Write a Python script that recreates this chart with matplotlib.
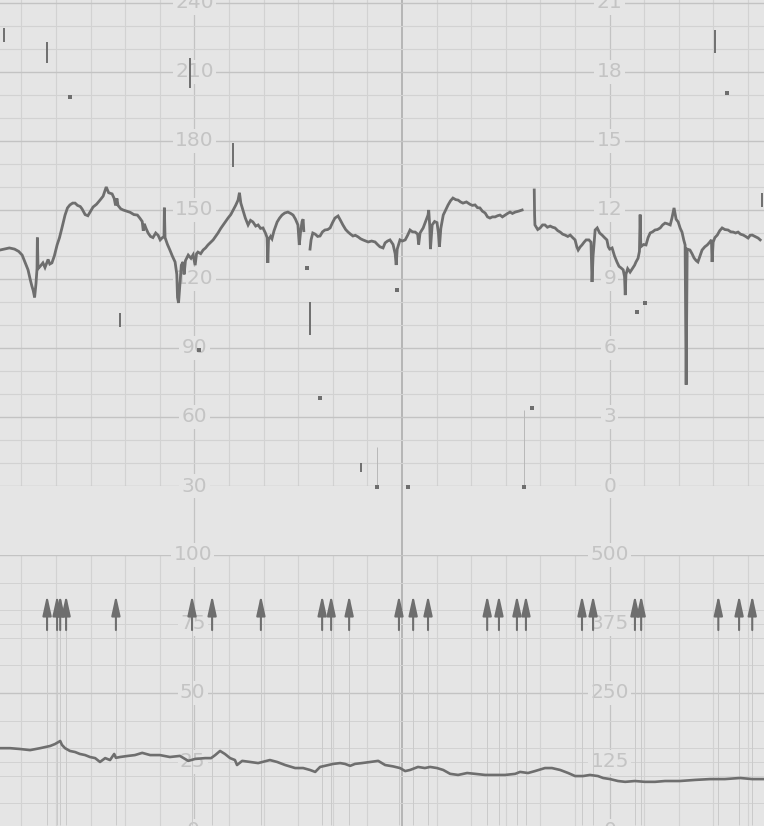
#!/usr/bin/env python3
"""Cardiotocograph strip: fetal heart rate (top) and uterine activity (bottom)."""

import numpy as np
import matplotlib
matplotlib.use("Agg")
import matplotlib.pyplot as plt

# time axis in minutes (1 cm / min paper)
T_MIN, T_MAX = -0.62, 21.46

# fetal heart rate trace (bpm); NaN marks signal loss
fhr_t = [
    -0.62, -0.50, -0.35, -0.20, -0.08, 0.02, 0.10, 0.19, 0.25, 0.30, 0.34, 0.38, 0.42,
    0.45, 0.46, 0.48, 0.54, 0.62, 0.68, 0.77, 0.82, 0.88, 0.95, 1.03, 1.10, 1.17, 1.26,
    1.33, 1.40, 1.48, 1.55, 1.62, 1.70, 1.75, 1.84, 1.92, 2.00, 2.07, 2.17, 2.27, 2.36,
    2.45, 2.52, 2.62, 2.68, 2.72, 2.76, 2.79, 2.87, 2.94, 3.04, 3.14, 3.25, 3.35, 3.42,
    3.49, 3.52, 3.55, 3.60, 3.66, 3.73, 3.80, 3.88, 3.95, 4.01, 4.06, 4.12, 4.13, 4.15,
    4.22, 4.29, 4.36, 4.44, 4.49, 4.51, 4.54, 4.58, 4.62, 4.67, 4.70, 4.74, 4.82, 4.90,
    4.96, 5.02, 5.06, 5.10, 5.18, 5.25, 5.32, 5.39, 5.47, 5.54, 5.61, 5.68, 5.76, 5.83,
    5.90, 5.97, 6.05, 6.12, 6.19, 6.26, 6.30, 6.34, 6.40, 6.47, 6.55, 6.62, 6.69, 6.77,
    6.84, 6.91, 6.98, 7.05, 7.10, 7.12, 7.14, 7.20, 7.24, 7.30, 7.39, 7.46, 7.53, 7.61,
    7.70, 7.78, 7.85, 7.92, 7.99, 8.03, 8.07, 8.11, 8.14, 8.16, 8.20,
    8.34, 8.37, 8.42, 8.49, 8.56, 8.63, 8.70, 8.77, 8.85, 8.92, 8.99, 9.06, 9.15, 9.22,
    9.29, 9.37, 9.44, 9.51, 9.58, 9.65, 9.73, 9.80, 9.87, 9.95, 10.02, 10.12, 10.22,
    10.29, 10.36, 10.45, 10.51, 10.58, 10.65, 10.74, 10.80, 10.83, 10.86, 10.94, 11.01,
    11.09, 11.16, 11.23, 11.30, 11.38, 11.45, 11.48, 11.52, 11.61, 11.68, 11.75, 11.77,
    11.80, 11.82, 11.87, 11.94, 12.01, 12.05, 12.08, 12.12, 12.19, 12.26, 12.33, 12.40,
    12.47, 12.55, 12.62, 12.69, 12.76, 12.86, 12.96, 13.03, 13.11, 13.18, 13.25, 13.32,
    13.40, 13.47, 13.54, 13.61, 13.69, 13.76, 13.83, 13.90, 13.98, 14.05, 14.12, 14.19,
    14.27, 14.37, 14.47, 14.55,
    14.82, 14.83, 14.84, 14.92, 14.99, 15.06, 15.13, 15.20, 15.28, 15.35, 15.42, 15.50,
    15.57, 15.64, 15.71, 15.79, 15.86, 15.93, 16.00, 16.05, 16.09, 16.15, 16.20, 16.26,
    16.32, 16.40, 16.46, 16.49, 16.52, 16.58, 16.64, 16.71, 16.78, 16.85, 16.92, 16.96,
    17.00, 17.07, 17.14, 17.21, 17.27, 17.33, 17.39, 17.43, 17.45, 17.47, 17.52, 17.59,
    17.67, 17.72, 17.76, 17.82, 17.86, 17.88, 17.90, 17.98, 18.05, 18.11, 18.17, 18.24,
    18.31, 18.38, 18.46, 18.53, 18.60, 18.67, 18.75, 18.80, 18.86, 18.92, 18.98, 19.04,
    19.09, 19.14, 19.18, 19.21, 19.24, 19.32, 19.38, 19.44, 19.50, 19.55, 19.61, 19.67,
    19.75, 19.82, 19.89, 19.94, 19.96, 19.99, 20.04, 20.11, 20.18, 20.25, 20.33, 20.42,
    20.50, 20.57, 20.64, 20.71, 20.78, 20.86, 20.93, 21.00, 21.06, 21.12, 21.20, 21.29,
    21.35,
]
fhr_bpm = [
    132.6, 133.0, 133.5, 133.0, 132.0, 130.4, 127.4, 124.0, 120.0, 117.0, 115.0, 112.0, 118.0,
    124.5, 138.0, 124.5, 125.5, 127.0, 125.0, 128.5, 126.5, 127.0, 130.0, 134.8, 138.0, 142.2, 147.8,
    150.9, 152.2, 153.0, 153.0, 152.0, 151.5, 150.5, 148.0, 147.5, 149.5, 151.3, 152.5, 154.3, 156.0,
    160.0, 157.5, 157.0, 155.0, 152.0, 155.0, 152.0, 150.5, 150.0, 149.5, 149.0, 148.0, 147.8, 146.5,
    145.0, 141.0, 144.0, 142.0, 140.0, 138.5, 138.0, 140.0, 139.0, 137.0, 137.8, 138.5, 151.0, 138.0,
    135.0, 132.6, 130.0, 127.4, 122.0, 112.0, 109.6, 118.0, 126.0, 127.4, 122.0, 128.0, 130.4, 129.0,
    130.5, 126.0, 131.0, 131.7, 131.0, 132.6, 133.5, 134.8, 136.0, 137.0, 138.5, 140.0, 142.0, 143.5,
    145.0, 146.5, 148.0, 150.0, 152.0, 154.3, 157.5, 153.0, 150.0, 146.5, 143.5, 145.5, 144.8, 143.0,
    143.5, 142.0, 142.2, 140.0, 138.0, 127.0, 137.0, 138.5, 137.5, 141.0, 144.8, 146.5, 147.8, 148.7,
    149.1, 148.5, 147.8, 146.0, 143.5, 134.8, 141.0, 145.0, 146.0, 141.0, np.nan,
    133.0, 137.0, 140.0, 139.5, 138.5, 138.7, 140.5, 141.3, 141.5, 142.2, 144.5, 146.5, 147.4, 145.5,
    143.5, 141.5, 140.4, 139.5, 138.7, 139.0, 138.3, 137.5, 137.0, 136.5, 136.1, 136.5, 136.1,
    135.0, 134.0, 133.5, 135.7, 136.5, 137.0, 135.0, 131.0, 126.1, 133.0, 137.0, 136.5,
    137.0, 139.0, 141.3, 140.5, 140.4, 139.5, 135.0, 140.0, 142.2, 145.0, 147.8, 150.0,
    143.0, 133.0, 143.5, 145.0, 144.5, 140.0, 134.0, 142.0, 147.8, 150.0, 152.2, 154.0,
    155.2, 154.5, 154.3, 153.5, 153.0, 153.5, 152.5, 152.0, 152.2, 151.0, 150.9, 149.5,
    148.7, 147.0, 146.5, 147.0, 147.0, 147.5, 147.8, 147.0, 147.8, 148.5, 149.1, 148.5,
    149.1, 149.5, 150.0, np.nan,
    158.7, 147.8, 143.5, 141.5, 142.2, 143.5, 143.5, 142.5, 143.0, 142.5, 142.2, 141.0,
    140.4, 139.5, 139.1, 138.5, 139.1, 138.0, 137.0, 134.0, 132.6, 134.0, 134.8, 136.0,
    137.0, 137.0, 136.0, 118.7, 130.0, 141.3, 142.2, 140.0, 139.1, 138.0, 137.0, 134.0,
    133.0, 133.5, 130.0, 127.4, 125.5, 124.8, 124.0, 121.0, 113.0, 122.0, 124.5, 123.0,
    124.8, 126.0, 127.4, 129.0, 132.0, 148.0, 134.0, 135.0, 134.8, 138.0, 140.0, 140.5,
    141.3, 141.5, 142.2, 143.5, 144.3, 144.0, 143.5, 146.5, 150.9, 146.0, 144.8, 142.0,
    140.4, 137.0, 134.8, 74.0, 133.0, 132.6, 131.0, 129.1, 128.0, 127.4, 130.0, 132.6,
    134.0, 134.8, 136.0, 137.0, 127.4, 136.0, 138.0, 139.1, 141.0, 142.2, 141.5, 141.3,
    140.5, 140.4, 140.0, 140.4, 139.5, 139.1, 138.5, 137.8, 139.0, 139.1, 138.5, 137.8,
    137.0,
]

# stray pen strokes in the heart-rate channel: time, top bpm, bottom bpm
stroke_t = [-0.50, 0.74, 4.87, 6.12, 2.85, 8.34, 9.82, 20.05, 21.41]
stroke_top = [229.1, 223.0, 216.1, 179.1, 105.2, 110.0, 40.0, 228.3, 157.4]
stroke_bot = [223.0, 213.9, 203.0, 168.7, 99.1, 95.7, 36.1, 218.3, 151.3]

# faint drop-out lines to the bottom of the scale
dropout_t = [10.28, 14.53]
dropout_top = [47.0, 63.0]

# isolated dots
dot_t = [8.63, 10.28, 5.13, 10.86, 11.17, 14.53, 14.76, 18.02, 17.79, 20.39, 1.40, 8.25]
dot_bpm = [68.3, 29.7, 89.1, 115.2, 29.7, 29.7, 63.9, 109.6, 105.7, 200.9, 199.1, 124.8]

# uterine activity trace
uc_t = [
    -0.62, -0.33, -0.04, 0.25, 0.54, 0.83, 0.97, 1.12, 1.17, 1.26, 1.40, 1.55, 1.69, 1.84,
    1.98, 2.13, 2.27, 2.42, 2.56, 2.68, 2.73, 2.85, 3.08, 3.28, 3.49, 3.72, 4.00, 4.29,
    4.58, 4.82, 5.02, 5.31, 5.48, 5.60, 5.74, 5.88, 6.03, 6.17, 6.23, 6.38, 6.61, 6.84,
    7.18, 7.39, 7.62, 7.91, 8.14, 8.34, 8.49, 8.63, 8.77, 9.01, 9.21, 9.35, 9.50, 9.64,
    9.84, 10.08, 10.31, 10.51, 10.74, 10.94, 11.09, 11.23, 11.46, 11.66, 11.81, 12.01,
    12.19, 12.39, 12.62, 12.88, 13.11, 13.40, 13.69, 13.98, 14.27, 14.41, 14.64, 14.84,
    15.13, 15.33, 15.57, 15.80, 16.00, 16.23, 16.43, 16.66, 16.81, 17.01, 17.24, 17.45,
    17.73, 18.02, 18.31, 18.60, 19.03, 19.47, 19.90, 20.33, 20.77, 21.12, 21.46,
]
uc_val = [
    30.0, 30.0, 29.7, 29.3, 30.0, 30.8, 31.5, 32.6, 31.2, 30.0, 29.0, 28.6, 27.9, 27.5,
    26.8, 26.4, 25.0, 26.4, 25.7, 27.9, 26.5, 26.8, 27.2, 27.5, 28.3, 27.5, 27.5, 26.8,
    27.2, 25.4, 26.1, 26.4, 26.4, 27.5, 29.0, 27.9, 26.4, 25.7, 23.9, 25.4, 25.0, 24.6,
    25.7, 25.0, 23.9, 22.8, 22.8, 22.1, 21.4, 23.2, 23.6, 24.3, 24.6, 24.3, 23.6, 24.3,
    24.6, 25.0, 25.4, 23.9, 23.4, 22.8, 21.7, 22.1, 23.2, 22.8, 23.2, 22.8,
    22.1, 20.7, 20.3, 21.0, 20.7, 20.3, 20.3, 20.3, 20.7, 21.4, 21.0, 21.7,
    22.8, 22.8, 22.1, 21.0, 19.9, 19.9, 20.3, 19.9, 19.2, 18.8, 18.1, 17.8,
    18.1, 17.8, 17.8, 18.1, 18.1, 18.5, 18.8, 18.8, 19.2, 18.8, 18.8,
]

# fetal movement marks (arrows)
move_t = [0.74, 1.03, 1.12, 1.29, 2.73, 4.93, 5.51, 6.92, 8.69, 8.95, 9.47, 10.91,
          11.32, 11.75, 13.46, 13.80, 14.32, 14.58, 16.20, 16.52, 17.73, 17.91,
          20.14, 20.74, 21.12]

# printed scale labels
fhr_ticks = [240, 210, 180, 150, 120, 90, 60, 30]
kpa_ticks = ["21", "18", "15", "12", "9", "6", "3", "0"]
uc_ticks = [100, 75, 50, 25, 0]
uc_right_ticks = ["500", "375", "250", "125", "0"]

PAPER = "#e5e5e5"
GRID = "#d2d2d2"
GRID_MAJOR = "#c3c3c3"
TRACE = "#6e6e6e"
LABEL = "#c4c4c4"

fig = plt.figure(figsize=(7.64, 8.26), dpi=100, facecolor=PAPER)

# background: heavy minute lines that run across the whole strip
ax_bg = fig.add_axes([0, 0, 1, 1])
ax_bg.set_xlim(T_MIN, T_MAX)
ax_bg.set_ylim(0, 1)
ax_bg.axis("off")
for t in (5, 17):
    ax_bg.axvline(t, color=GRID_MAJOR, lw=0.9, zorder=0)
ax_bg.axvline(11, color="#a8a8a8", lw=1.1, zorder=0)

# heart rate panel
ax_fhr = fig.add_axes([0, 340 / 826, 1, 486 / 826])
ax_fhr.set_xlim(T_MIN, T_MAX)
ax_fhr.set_ylim(30, 241.3)
ax_fhr.patch.set_alpha(0)
ax_fhr.axis("off")
for t in range(0, 22):
    if t not in (5, 11, 17):
        ax_fhr.axvline(t, color=GRID, lw=0.8, zorder=1)
for v in range(30, 250, 10):
    major = (v - 30) % 30 == 0
    ax_fhr.axhline(v, color=GRID_MAJOR if major else GRID, lw=1.0 if major else 0.8, zorder=1)

for v, k in zip(fhr_ticks, kpa_ticks):
    for t, s in ((5, str(v)), (17, k)):
        ax_fhr.text(t, v, s, ha="center", va="center", fontsize=14.5, color=LABEL,
                    zorder=2, clip_on=False,
                    bbox=dict(boxstyle="square,pad=0.12", fc=PAPER, ec="none"))

ax_fhr.plot(fhr_t, fhr_bpm, color=TRACE, lw=2.0, zorder=4, solid_joinstyle="miter")
ax_fhr.vlines(stroke_t, stroke_bot, stroke_top, color=TRACE, lw=1.4, zorder=4)
ax_fhr.vlines(dropout_t, 30, dropout_top, color="#b8b8b8", lw=0.7, zorder=3)
ax_fhr.plot(dot_t, dot_bpm, "s", color=TRACE, ms=2.2, mew=0, zorder=4, clip_on=False)

# uterine activity panel
ax_uc = fig.add_axes([0, 0, 1, 271 / 826])
ax_uc.set_xlim(T_MIN, T_MAX)
ax_uc.set_ylim(1.8, 100)
ax_uc.patch.set_alpha(0)
ax_uc.axis("off")
for t in range(0, 22):
    if t not in (5, 11, 17):
        ax_uc.axvline(t, color=GRID, lw=0.8, zorder=1)
for v in list(range(0, 101, 10)) + [25, 75]:
    major = v % 50 == 0
    ax_uc.axhline(v, color=GRID_MAJOR if major else GRID, lw=1.0 if major else 0.7, zorder=1)

for v, k in zip(uc_ticks, uc_right_ticks):
    for t, s in ((4.95, str(v)), (17, k)):
        ax_uc.text(t, v, s, ha="center", va="center", fontsize=14.5, color=LABEL,
                   zorder=2, clip_on=False,
                   bbox=dict(boxstyle="square,pad=0.12", fc=PAPER, ec="none"))

ax_uc.plot(uc_t, uc_val, color=TRACE, lw=1.9, zorder=4)

# movement arrows with the faint lines dropping below them
ax_uc.vlines(move_t, 2, 73, color="#cacaca", lw=0.7, zorder=2)
for t in move_t:
    ax_uc.annotate("", xy=(t, 85.5), xytext=(t, 72.8),
                   arrowprops=dict(arrowstyle="-|>,head_length=1.0,head_width=0.22",
                                   color=TRACE, lw=1.5, mutation_scale=12,
                                   shrinkA=0, shrinkB=0),
                   zorder=5)

fig.savefig("out.png", dpi=100, facecolor=PAPER)
